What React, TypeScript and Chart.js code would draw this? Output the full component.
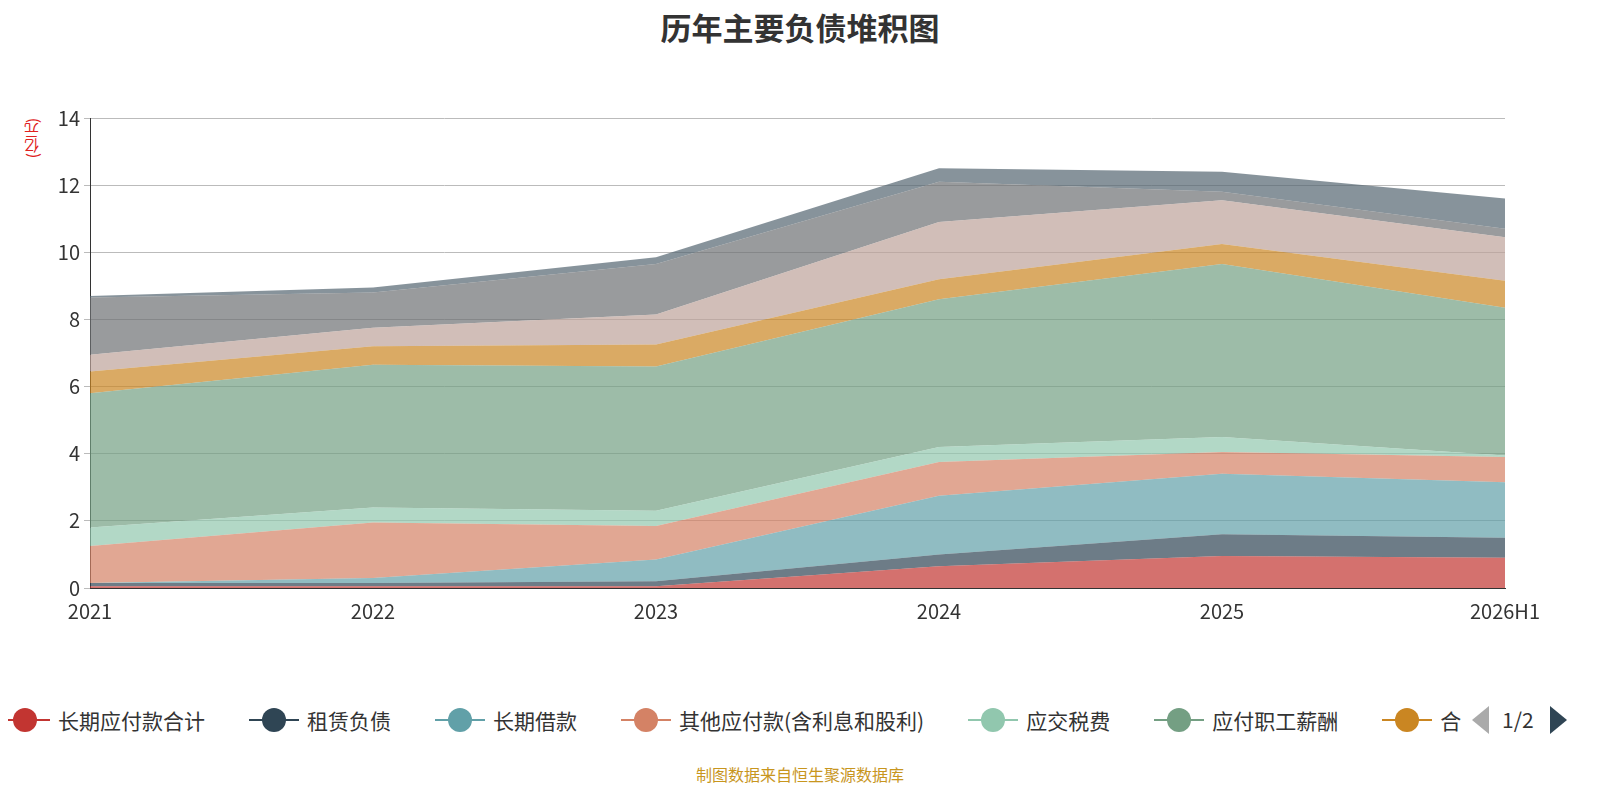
import { Chart, registerables } from "chart.js"
import React, { useEffect, useRef } from "react"

Chart.register(...registerables)

const years = ["2021", "2022", "2023", "2024", "2025", "2026H1"]
const seriesNames = [
  "长期应付款合计",
  "租赁负债",
  "长期借款",
  "其他应付款(含利息和股利)",
  "应交税费",
  "应付职工薪酬",
  "合同负债",
  "应付账款",
  "短期借款",
  "其他流动负债",
]
const colors = ["#c23531", "#2f4554", "#61a0a8", "#d48265", "#91c7ae", "#749f83", "#ca8622", "#bda29a", "#6e7074", "#546570"]
const longPayable = [0.05, 0.05, 0.05, 0.65, 0.95, 0.9]
const leaseLiab = [0.1, 0.1, 0.15, 0.35, 0.65, 0.6]
const longLoan = [0, 0.15, 0.65, 1.75, 1.8, 1.65]
const otherPayable = [1.1, 1.65, 1.0, 1.0, 0.65, 0.75]
const taxPayable = [0.55, 0.45, 0.45, 0.45, 0.45, 0.05]
const salaryPayable = [4.0, 4.25, 4.3, 4.4, 5.15, 4.4]
const contractLiab = [0.65, 0.55, 0.65, 0.6, 0.6, 0.8]
const accountsPayable = [0.5, 0.55, 0.9, 1.7, 1.3, 1.3]
const shortLoan = [1.7, 1.05, 1.5, 1.2, 0.25, 0.25]
const otherCurrent = [0.05, 0.15, 0.2, 0.4, 0.6, 0.9]
const seriesValues = [longPayable, leaseLiab, longLoan, otherPayable, taxPayable, salaryPayable, contractLiab, accountsPayable, shortLoan, otherCurrent]
const yTicks = [0, 2, 4, 6, 8, 10, 12, 14]

const font = "'Noto Sans CJK SC', 'Noto Sans', sans-serif"

export default function App() {
  const canvasRef = useRef<HTMLCanvasElement>(null)

  useEffect(() => {
    const ctx = canvasRef.current?.getContext("2d")
    if (!ctx) return
    const chart = new Chart(ctx, {
      type: "line",
      data: {
        labels: years,
        datasets: seriesValues.map((d, i) => ({
          label: seriesNames[i],
          data: d,
          backgroundColor: colors[i] + "b3",
          borderWidth: 0,
          pointRadius: 0,
          fill: i === 0 ? "origin" : "-1",
          tension: 0,
        })),
      },
      options: {
        animation: false,
        responsive: false,
        layout: { padding: { top: 118, right: 95, left: 0, bottom: 0 } },
        plugins: { legend: { display: false }, tooltip: { enabled: false } },
        scales: {
          x: {
            offset: false,
            grid: { display: false },
            border: { color: "#333" },
            ticks: { color: "#333", font: { size: 20, family: font }, maxRotation: 0 },
            afterFit: (s: any) => { s.height = 52 },
          },
          y: {
            stacked: true,
            min: 0,
            max: 14,
            afterBuildTicks: (s: any) => { s.ticks = yTicks.map((v) => ({ value: v })) },
            grid: { color: "#bbb", tickLength: 6 },
            border: { color: "#333" },
            ticks: { color: "#333", font: { size: 20, family: font }, padding: 4 },
            afterFit: (s: any) => { s.width = 90 },
          },
        },
      },
    })
    return () => chart.destroy()
  }, [])

  return (
    <div style={{ position: "relative", width: 1600, height: 800, margin: -8, fontFamily: font, overflow: "hidden" }}>
      <div style={{ position: "absolute", top: 4, width: "100%", textAlign: "center", fontSize: 31, fontWeight: "bold", color: "#333" }}>
        历年主要负债堆积图
      </div>
      <div style={{ position: "absolute", left: 21, top: 118, writingMode: "vertical-rl", transform: "rotate(180deg)", fontSize: 15, color: "#e02020" }}>(亿元)</div>
      <canvas ref={canvasRef} width={1600} height={640} style={{ position: "absolute", left: 0, top: 0 }} />
      <div style={{ position: "absolute", top: 702, left: 0, width: 1600, height: 36, whiteSpace: "nowrap", overflow: "hidden" }}>
        <div style={{ position: "absolute", left: 0, top: 0, width: 1462, height: 36, overflow: "hidden", fontSize: 21, color: "#333" }}>
          {seriesNames.slice(0, 7).map((n, i) => (
            <span key={n} style={{ display: "inline-flex", alignItems: "center", marginRight: 44, height: 36 }}>
              <span style={{ position: "relative", width: 50, height: 24, marginRight: 8 }}>
                <span style={{ position: "absolute", left: 0, right: 0, top: 11, height: 2, background: colors[i] }} />
                <span style={{ position: "absolute", left: 13, top: 0, width: 24, height: 24, borderRadius: 12, background: colors[i] }} />
              </span>
              {n}
            </span>
          ))}
        </div>
        <div style={{ position: "absolute", left: 1472, top: 4, width: 0, height: 0, borderTop: "14px solid transparent", borderBottom: "14px solid transparent", borderRight: "17px solid #aaa" }} />
        <div style={{ position: "absolute", left: 1502, top: 2, fontSize: 21, color: "#333" }}>1/2</div>
        <div style={{ position: "absolute", left: 1550, top: 4, width: 0, height: 0, borderTop: "14px solid transparent", borderBottom: "14px solid transparent", borderLeft: "17px solid #2f4554" }} />
      </div>
      <div style={{ position: "absolute", top: 762, width: "100%", textAlign: "center", fontSize: 16, color: "#c8961e" }}>制图数据来自恒生聚源数据库</div>
    </div>
  )
}
